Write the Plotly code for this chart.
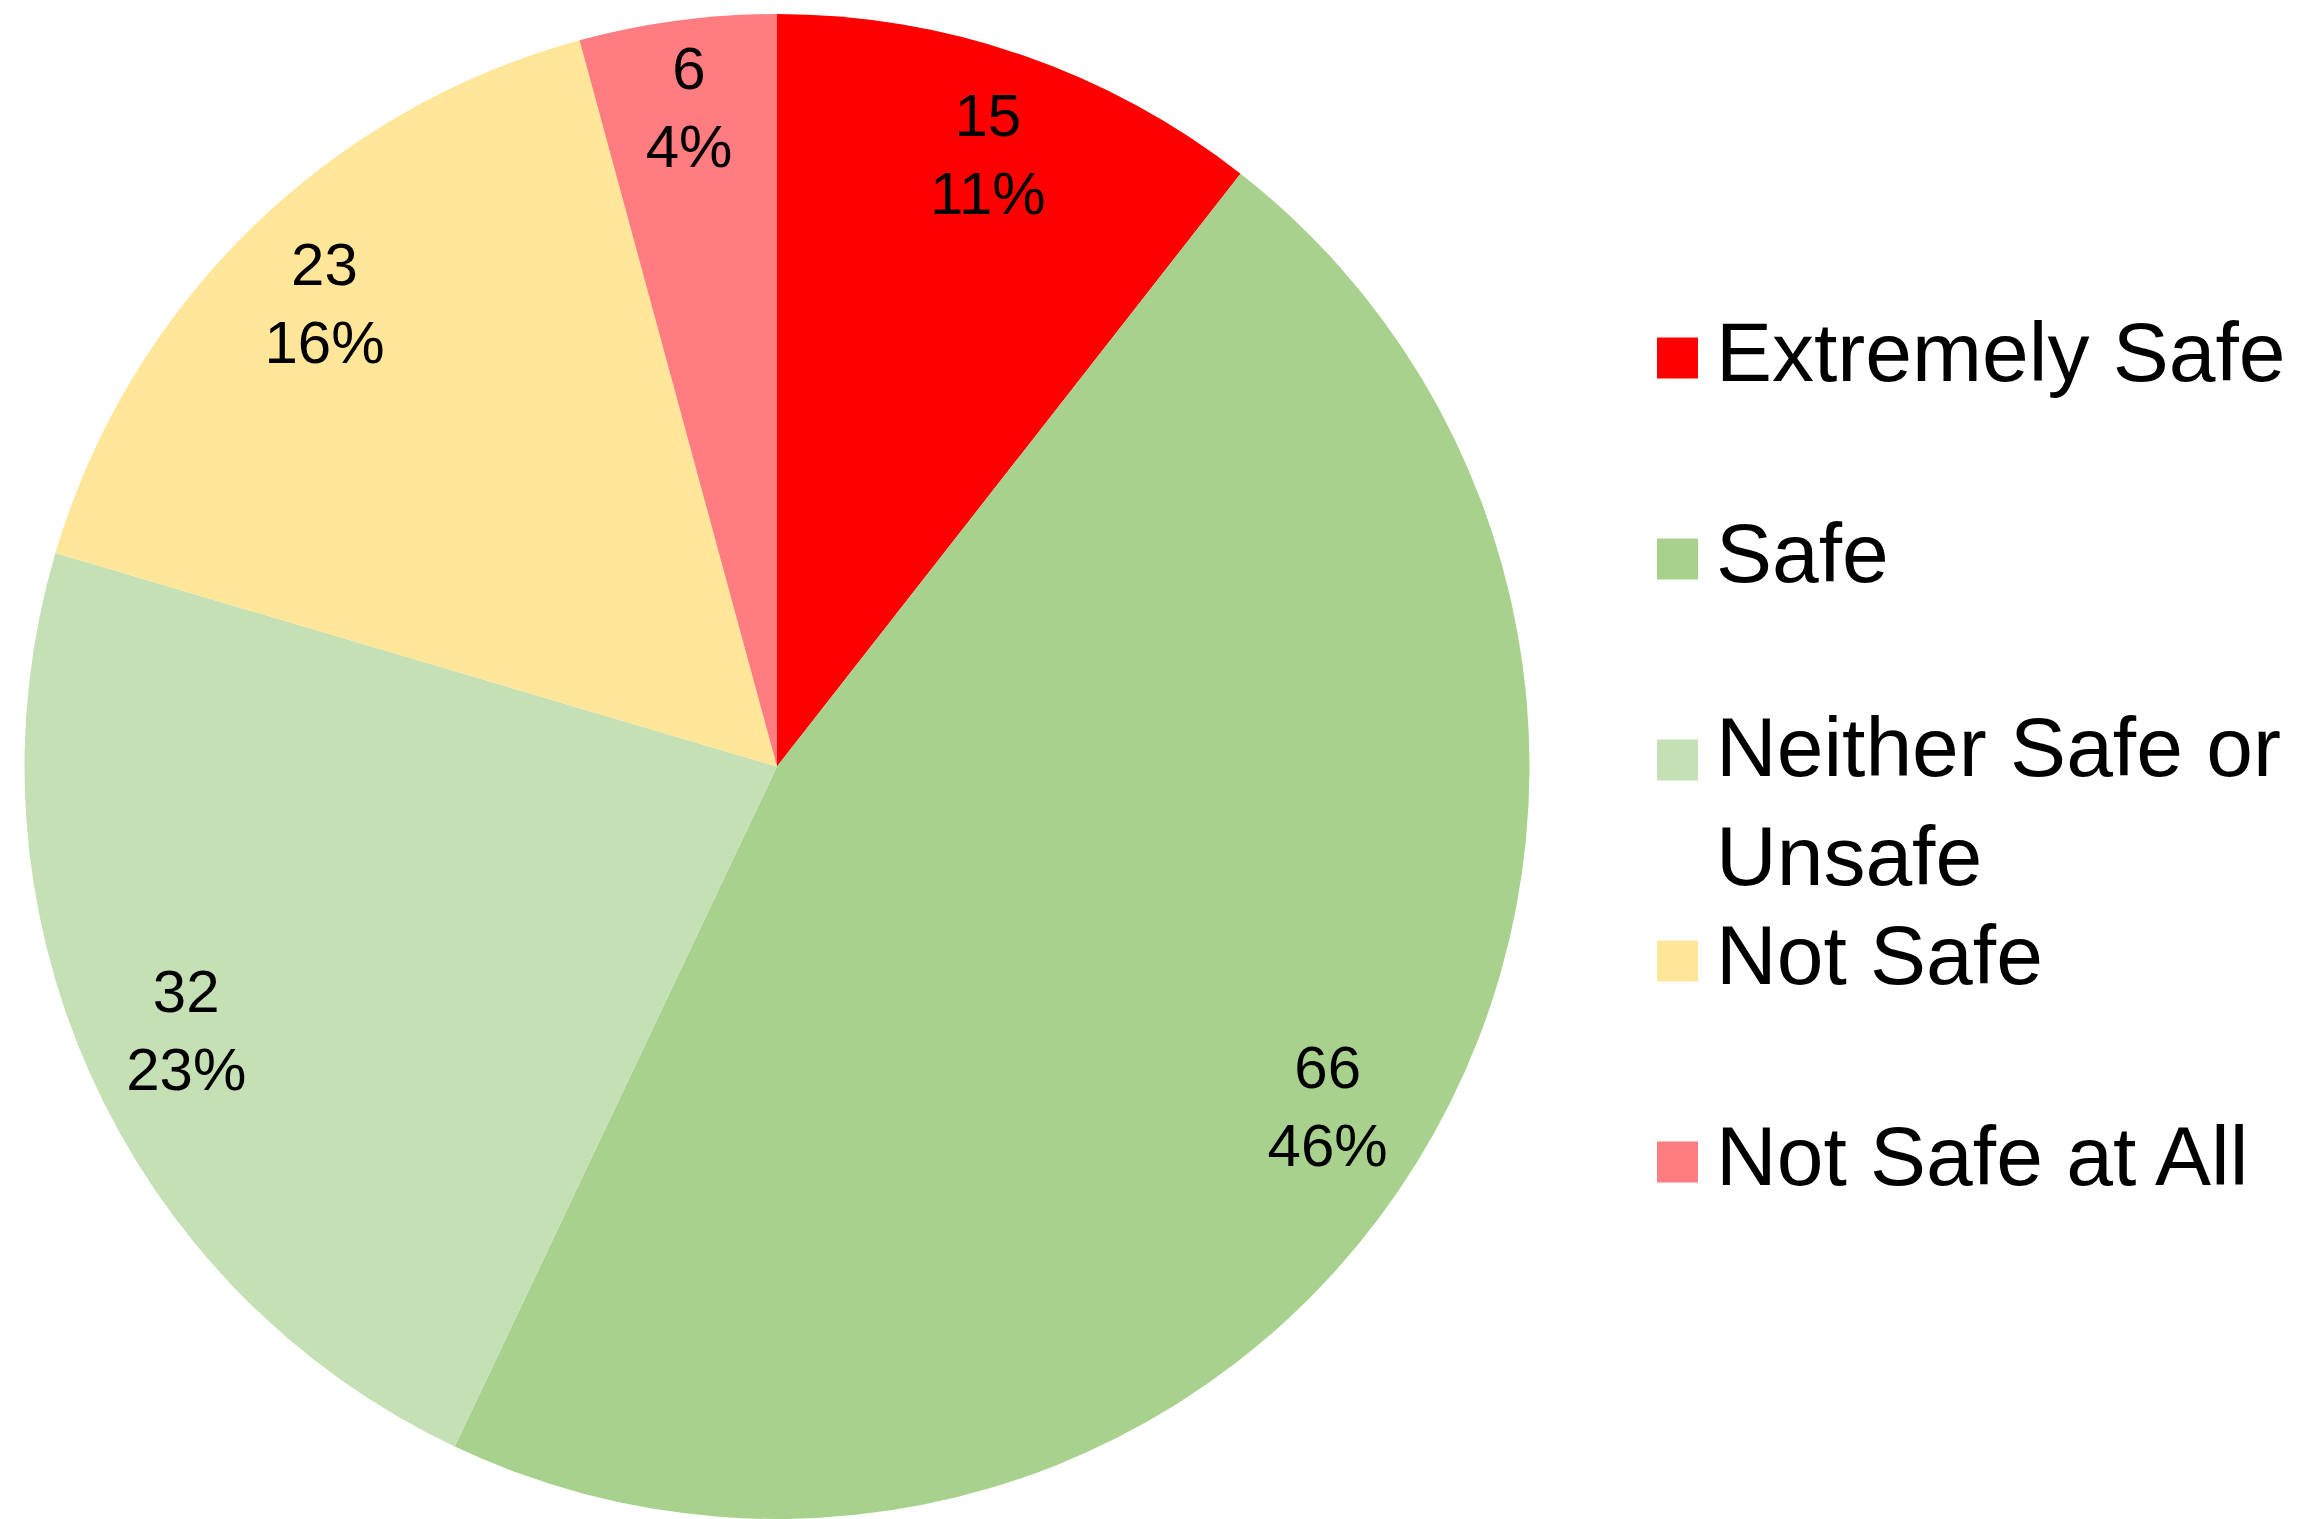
import plotly.graph_objects as go

# ---- data ----
categories = ["Extremely Safe", "Safe", "Neither Safe or Unsafe", "Not Safe", "Not Safe at All"]
counts = [15, 66, 32, 23, 6]
colors = ["#FF0000", "#A9D18E", "#C5E0B4", "#FFE699", "#FF7C80"]
legend_text = ["Extremely Safe", "Safe", "Neither Safe or<br>Unsafe", "Not Safe", "Not Safe at All"]

W, H = 2300, 1519
FONT = "Liberation Sans, Arial, sans-serif"
LABEL_SIZE = 60
LEGEND_SIZE = 84

pie_domain = dict(x=[24 / W, 1530 / W], y=[0, 1 - 14 / H])

fig = go.Figure()

# solid pie (slices)
fig.add_trace(go.Pie(
    labels=categories, values=counts, sort=False, direction="clockwise", rotation=0,
    marker=dict(colors=colors, line=dict(width=0)),
    textinfo="none", hoverinfo="label+value+percent", showlegend=False,
    domain=pie_domain,
))

# transparent ring used only to place the data labels near the rim
fig.add_trace(go.Pie(
    labels=categories, values=counts, sort=False, direction="clockwise", rotation=0,
    hole=0.72,
    marker=dict(colors=["rgba(0,0,0,0)"] * len(categories), line=dict(width=0)),
    texttemplate="%{value}<br>%{percent:.0%}",
    textposition="inside", insidetextorientation="horizontal",
    textfont=dict(family=FONT, size=LABEL_SIZE, color="black"),
    hoverinfo="skip", showlegend=False,
    domain=pie_domain,
))

# legend (swatch + label per category)
ROW0 = 352       # px from top: centre of first legend line
ROW_STEP = 201   # px between entries
LINE_STEP = 95   # px between wrapped lines in the reference
SW_X0, SW_X1, SW = 1657, 1698, 41
TEXT_X = 1714
shapes, annotations = [], []
for i, (txt, col) in enumerate(zip(legend_text, colors)):
    yc = ROW0 + ROW_STEP * i
    shapes.append(dict(type="rect", xref="paper", yref="paper",
                       x0=SW_X0 / W, x1=SW_X1 / W,
                       y0=1 - (yc + 6 + SW / 2) / H, y1=1 - (yc + 6 - SW / 2) / H,
                       fillcolor=col, line=dict(width=0)))
    nlines = txt.count("<br>") + 1
    ymid = yc + (nlines - 1) * LINE_STEP / 2
    annotations.append(dict(text=txt, xref="paper", yref="paper",
                            x=TEXT_X / W, y=1 - ymid / H,
                            xanchor="left", yanchor="middle", align="left",
                            showarrow=False,
                            font=dict(family=FONT, size=LEGEND_SIZE, color="black")))

fig.update_layout(
    width=W, height=H,
    margin=dict(l=0, r=0, t=0, b=0),
    paper_bgcolor="white", plot_bgcolor="white",
    font=dict(family=FONT, color="black"),
    uniformtext=dict(minsize=LABEL_SIZE, mode="show"),
    shapes=shapes, annotations=annotations,
    showlegend=False,
)

fig.write_html("out.html", config={"displayModeBar": False},
               post_script="document.body.style.margin='0';")
